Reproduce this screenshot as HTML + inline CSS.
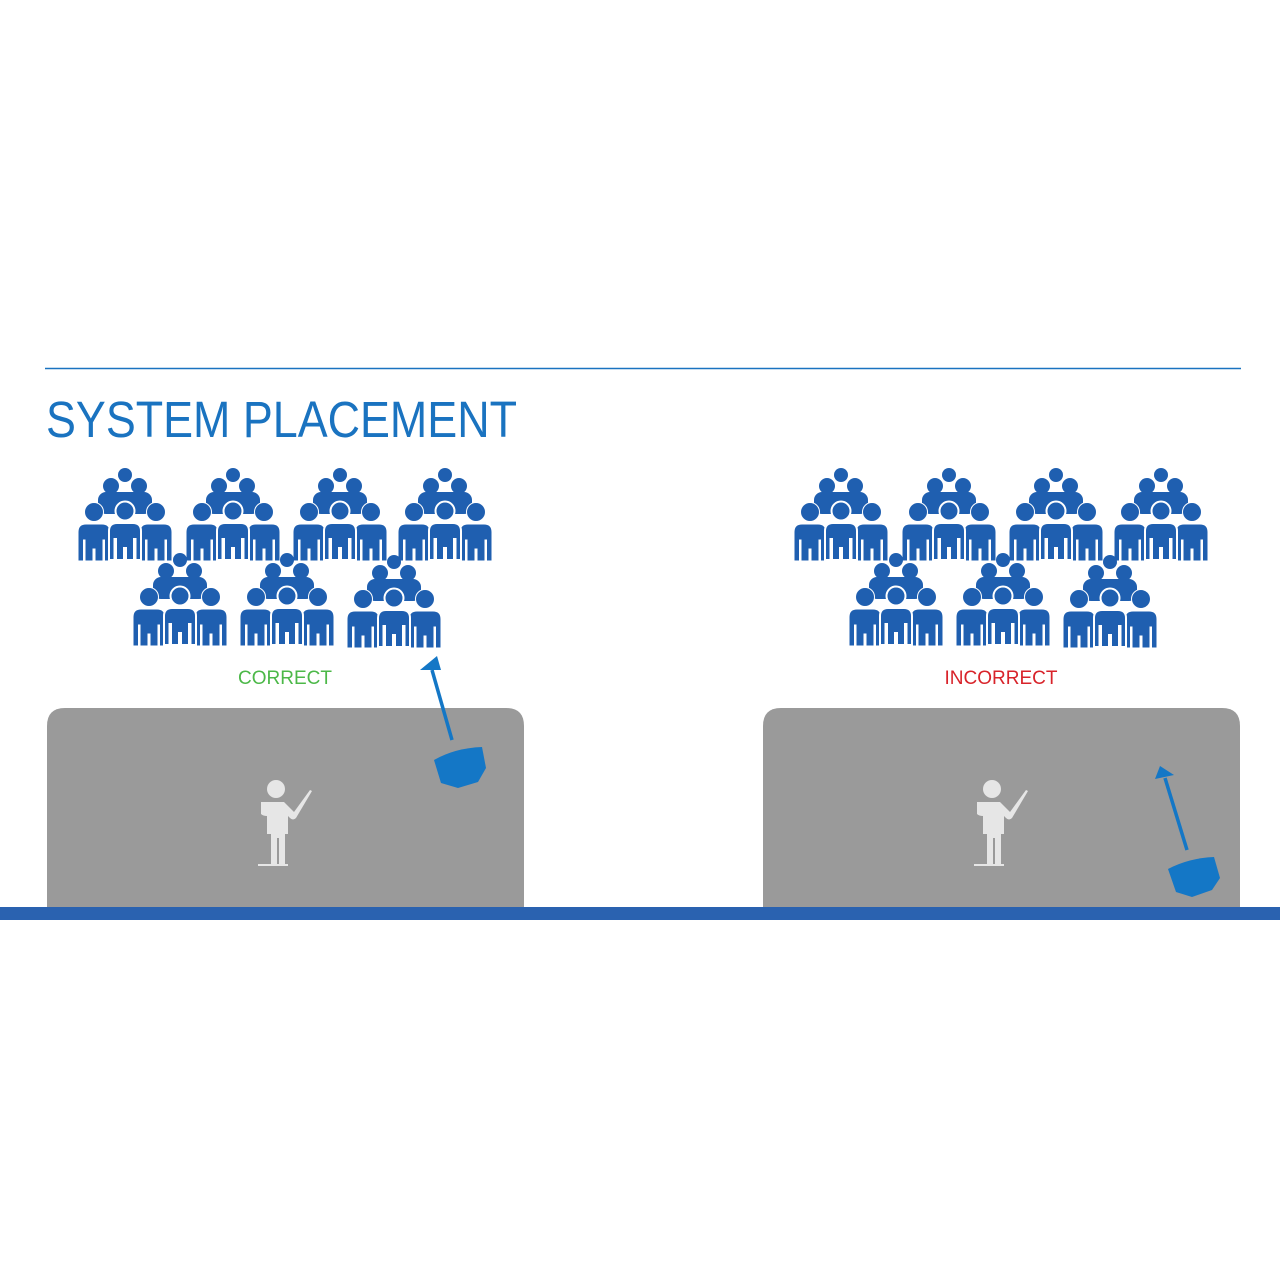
<!DOCTYPE html>
<html><head><style>html,body{margin:0;padding:0;background:#fff;}svg{display:block}</style></head>
<body>
<svg width="1280" height="1280" viewBox="0 0 1280 1280" xmlns="http://www.w3.org/2000/svg">
<defs>
<g id="p">
<circle cx="16" cy="9" r="9.5"/>
<path d="M0,58 V29 Q0,21 8,21 H24 Q32,21 32,29 V58 H26.5 V37 H25 V58 H17 V46 H15 V58 H7 V37 H5.5 V58 Z"/>
</g>
<g id="crowd" fill="#1f5fb0">
<circle cx="47" cy="7" r="7"/>
<circle cx="33" cy="18" r="8"/>
<circle cx="61" cy="18" r="8"/>
<rect x="20" y="24" width="54" height="22" rx="8"/>
<use href="#p" x="0" y="35" stroke="#fff" stroke-width="1"/>
<use href="#p" x="62" y="35" stroke="#fff" stroke-width="1"/>
<use href="#p" x="31" y="34" stroke="#fff" stroke-width="2"/>
</g>
<g id="teacher" fill="#e6e6e6">
<circle cx="18" cy="9" r="9"/>
<path d="M3,22 H26 L36,32 L52,10 L54,11 L38,38 Q35,41 32,38 L30,36 V54 H27 V86 H21 V58 H19 V86 H13 V54 H9 V36 Q5,36 3,34 Z"/>
<rect x="0" y="84" width="30" height="2"/>
</g>
</defs>
<line x1="45" y1="368.5" x2="1241" y2="368.5" stroke="#1a73c0" stroke-width="1.5"/>
<text x="46" y="437" font-family="Liberation Sans, sans-serif" font-size="51" fill="#1a73c0" textLength="471" lengthAdjust="spacingAndGlyphs">SYSTEM PLACEMENT</text>

<use href="#crowd" x="78" y="468"/>
<use href="#crowd" x="186" y="468"/>
<use href="#crowd" x="293" y="468"/>
<use href="#crowd" x="398" y="468"/>
<use href="#crowd" x="133" y="553"/>
<use href="#crowd" x="240" y="553"/>
<use href="#crowd" x="347" y="555"/>

<use href="#crowd" x="794" y="468"/>
<use href="#crowd" x="902" y="468"/>
<use href="#crowd" x="1009" y="468"/>
<use href="#crowd" x="1114" y="468"/>
<use href="#crowd" x="849" y="553"/>
<use href="#crowd" x="956" y="553"/>
<use href="#crowd" x="1063" y="555"/>

<text x="285" y="684" text-anchor="middle" font-family="Liberation Sans, sans-serif" font-size="19" fill="#4cb848">CORRECT</text>
<text x="1001" y="684" text-anchor="middle" font-family="Liberation Sans, sans-serif" font-size="19" fill="#d8232a">INCORRECT</text>

<path d="M47,908 V726 Q47,708 65,708 H506 Q524,708 524,726 V908 Z" fill="#9a9a9a"/>
<path d="M763,908 V726 Q763,708 781,708 H1222 Q1240,708 1240,726 V908 Z" fill="#9a9a9a"/>
<rect x="0" y="907" width="1280" height="13" fill="#2a62b0"/>

<use href="#teacher" x="258" y="780"/>
<use href="#teacher" x="974" y="780"/>

<g fill="#1477c6" stroke="#1477c6">
<line x1="452" y1="740" x2="432" y2="670" stroke-width="3.5"/>
<polygon points="420,670 437,656 441,670" stroke="none"/>
<path d="M434,760 Q455,748 482,747 L486,768 L478,782 L458,788 L441,783 Z" stroke="none"/>
<line x1="1187" y1="850" x2="1165" y2="778" stroke-width="3.5"/>
<polygon points="1155,779 1160,766 1174,775" stroke="none"/>
<path d="M1168,869 Q1189,858 1214,857 L1220,878 L1212,890 L1192,897 L1176,892 Z" stroke="none"/>
</g>
</svg>
</body></html>
